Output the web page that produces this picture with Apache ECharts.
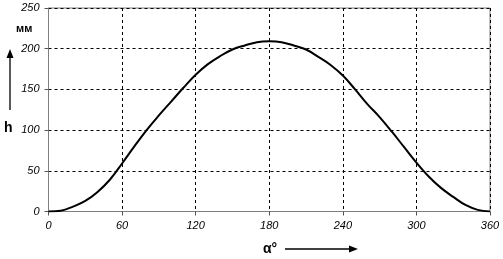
<!DOCTYPE html>
<html><head><meta charset="utf-8">
<script src="https://cdn.jsdelivr.net/npm/echarts@6/dist/echarts.min.js"></script>
<style>html,body{margin:0;padding:0;background:#fff}#c{width:503px;height:259px}</style>
</head><body><div id="c"></div>
<script>
var angles = [0,10,20,30,40,50,60,70,80,90,100,110,120,130,140,150,160,170,180,190,200,210,220,230,240,250,260,270,280,290,300,310,320,330,340,350,360];
var heights = [0,1,6,13,24,39,59,80,100,118,135,152,168,181,191,199,204,208,209,208,204,199,190,180,167,150,132,116,98,79,60,43,29,18,8,2,0];
var xTicks = [0,60,120,180,240,300,360];
var yTicks = [0,50,100,150,200,250];
var yUnit = 'мм', yName = 'h', xName = 'α°';

var chart = echarts.init(document.getElementById('c'));
var lblFont = {fontFamily:'Liberation Sans', fontStyle:'italic', fontSize:11, color:'#000'};
chart.setOption({
  animation:false,
  grid:{left:48.5, right:13, top:8, bottom:47.5, show:true, borderColor:'#808080', borderWidth:1},
  xAxis:{type:'value', min:0, max:360, interval:60,
    axisLine:{show:true, onZero:false, lineStyle:{color:'#808080', width:1}},
    axisTick:{show:true, inside:false, length:4, lineStyle:{color:'#555'}},
    splitLine:{show:true, lineStyle:{color:'#000', type:[3,3], width:1}},
    axisLabel:Object.assign({margin:9, formatter:function(v){return xTicks.indexOf(v)>=0?String(v):'';}}, lblFont)},
  yAxis:{type:'value', min:0, max:250, interval:50,
    axisLine:{show:true, lineStyle:{color:'#808080', width:1}},
    axisTick:{show:true, inside:false, length:4, lineStyle:{color:'#555'}},
    splitLine:{show:true, lineStyle:{color:'#000', type:[3,3], width:1}},
    axisLabel:Object.assign({margin:9, formatter:function(v){return yTicks.indexOf(v)>=0?String(v):'';}}, lblFont)},
  series:[{type:'line', data:angles.map(function(a,i){return [a,heights[i]];}), smooth:0.4, symbol:'none',
    lineStyle:{color:'#000', width:2}}],
  graphic:[
    {type:'text', left:16, top:23, style:{text:yUnit, font:'bold 11px "Liberation Sans"', fill:'#000'}},
    {type:'text', left:4, top:121, style:{text:yName, font:'bold 14px "Liberation Sans"', fill:'#000'}},
    {type:'line', shape:{x1:10, y1:110, x2:10, y2:57}, style:{stroke:'#000', lineWidth:1.3}},
    {type:'polygon', shape:{points:[[10,49],[6.5,58],[13.5,58]]}, style:{fill:'#000'}},
    {type:'text', left:263, top:242, style:{text:xName, font:'bold 14px "Liberation Sans"', fill:'#000'}},
    {type:'line', shape:{x1:285, y1:249, x2:350, y2:249}, style:{stroke:'#000', lineWidth:1.3}},
    {type:'polygon', shape:{points:[[358,249],[349,245.5],[349,252.5]]}, style:{fill:'#000'}}
  ]
});
</script></body></html>
